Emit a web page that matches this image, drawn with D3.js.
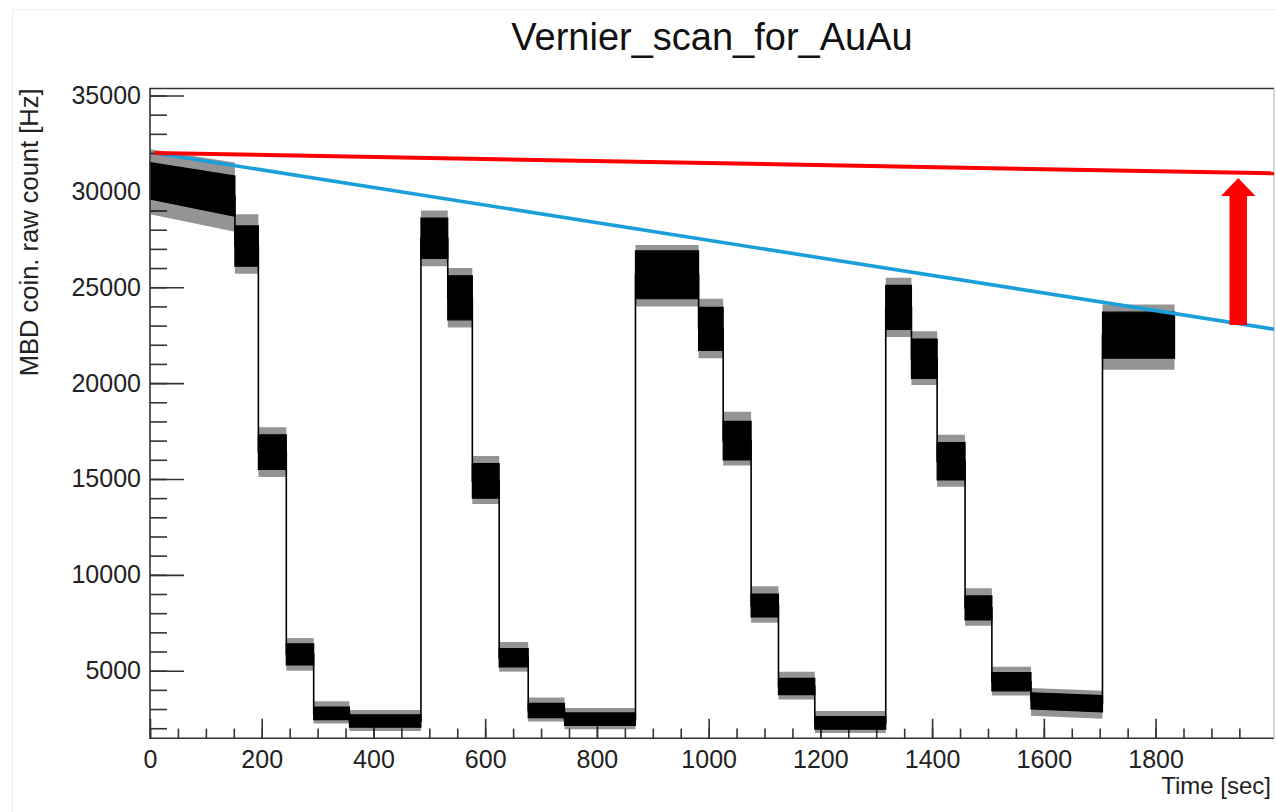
<!DOCTYPE html>
<html>
<head>
<meta charset="utf-8">
<script src="https://cdn.jsdelivr.net/npm/d3@7"></script>
<style>
body{margin:0;background:#ffffff;}
svg{display:block;font-family:"Liberation Sans",Arial,Helvetica,sans-serif;}
</style>
</head>
<body>
<div id="chart"></div>
<script>
//step plateaus of the scan
//start and end time of each plateau [sec]
var plateauStart = [0, 152, 194, 244, 293, 357, 485, 533, 577, 625, 677, 742, 869, 982, 1026, 1076, 1125, 1190, 1317, 1363, 1409, 1459, 1507, 1577, 1705];
var plateauEnd   = [152, 194, 244, 293, 357, 485, 533, 577, 625, 677, 742, 869, 982, 1026, 1076, 1125, 1190, 1317, 1363, 1409, 1459, 1507, 1577, 1705, 1834];
//upper and lower edge of the dense noise band at start / end of each plateau [Hz]
var bandHighStart = [31500, 28200, 17300, 6400, 3100, 2700, 28600, 25600, 15800, 6150, 3300, 2800, 26900, 23950, 18000, 9000, 4600, 2600, 25100, 22300, 16900, 8900, 4900, 3850, 23700];
var bandHighEnd   = [30800, 28200, 17300, 6400, 3100, 2700, 28600, 25600, 15800, 6150, 3300, 2800, 26900, 23950, 18000, 9000, 4600, 2600, 25100, 22300, 16900, 8900, 4900, 3700, 23700];
var bandLowStart  = [29600, 26100, 15500, 5300, 2450, 2050, 26500, 23300, 14000, 5200, 2550, 2150, 24400, 21700, 16000, 7800, 3750, 1950, 22800, 20250, 14950, 7650, 3950, 3000, 21300];
var bandLowEnd    = [28700, 26100, 15500, 5300, 2450, 2050, 26500, 23300, 14000, 5200, 2550, 2150, 24400, 21700, 16000, 7800, 3750, 1950, 22800, 20250, 14950, 7650, 3950, 2850, 21300];
//outer reach of the single spikes at plateau start [Hz]
var spikeHigh = [32200, 28800, 17700, 6700, 3400, 2950, 29000, 26000, 16200, 6500, 3600, 3050, 27200, 24400, 18500, 9400, 4950, 2900, 25500, 22700, 17300, 9300, 5200, 4100, 24100];
var spikeLow  = [28800, 25700, 15100, 5000, 2250, 1850, 26100, 22900, 13700, 4950, 2350, 1950, 24000, 21300, 15700, 7500, 3500, 1750, 22400, 19900, 14600, 7350, 3700, 2650, 20700];

//overlaid lines [time, rate]
var redLine = [[8, 32000], [2012, 30940]];
var blueLine = [[8, 32000], [2012, 22810]];
//arrow from the blue line up to the red one
var arrowTime = 1948;
var arrowFrom = 23030;
var arrowTo = 30700;

var xMajor = d3.range(0, 1801, 200);
var xMinor = d3.range(0, 1951, 50);
var yMajor = d3.range(5000, 35001, 5000);
var yMinor = d3.range(2000, 35001, 1000);

var W = 1276, H = 812;
var frame = {left:150, right:1274, top:88.5, bottom:738.3};

var svg = d3.select("#chart").append("svg").attr("width", W).attr("height", H);

//faint canvas border
svg.append("rect").attr("x", 12.5).attr("y", 9.5).attr("width", W).attr("height", H)
	.attr("fill", "none").attr("stroke", "#ececec").attr("stroke-width", 1);

var x = d3.scaleLinear().domain([0, 2012]).range([frame.left, frame.right]);
var y = d3.scaleLinear().domain([1474, 35365]).range([frame.bottom, frame.top]);

var plot = svg.append("g");

//ticks point inside the frame, root style
var tickColor = "#333333";
function styleAxis(g){
	g.select(".domain").remove();
	g.selectAll(".tick line").attr("stroke", tickColor).attr("stroke-width", 1.6);
	g.selectAll(".tick text").attr("fill", "#222222").attr("font-size", "25px").attr("font-family", "Liberation Sans, Arial, sans-serif");
}

plot.append("g").attr("transform", "translate(0," + frame.bottom + ")")
	.call(d3.axisBottom(x).tickValues(xMinor).tickSize(-9.7).tickFormat(""))
	.call(styleAxis);
plot.append("g").attr("transform", "translate(0," + frame.bottom + ")")
	.call(d3.axisBottom(x).tickValues(xMajor).tickSize(-19.5).tickPadding(12).tickFormat(d3.format("d")))
	.call(styleAxis);

plot.append("g").attr("transform", "translate(" + frame.left + ",0)")
	.call(d3.axisLeft(y).tickValues(yMinor).tickSize(-17).tickFormat(""))
	.call(styleAxis);
plot.append("g").attr("transform", "translate(" + frame.left + ",0)")
	.call(d3.axisLeft(y).tickValues(yMajor).tickSize(-34).tickPadding(9).tickFormat(d3.format("d")))
	.call(styleAxis);

//data: noise bands and the connecting step line
var plateaus = plateauStart.map(function(t0, i){
	var dropHi = bandHighStart[i] - bandHighEnd[i];
	var dropLo = bandLowStart[i] - bandLowEnd[i];
	return [
		{t:t0, hi:bandHighStart[i], lo:bandLowStart[i], shi:spikeHigh[i], slo:spikeLow[i]},
		{t:plateauEnd[i], hi:bandHighEnd[i], lo:bandLowEnd[i], shi:spikeHigh[i] - dropHi, slo:spikeLow[i] - dropLo}
	];
});

var band = d3.area()
	.x(function(d){return x(d.t)})
	.y0(function(d){return y(d.lo)})
	.y1(function(d){return y(d.hi)});
var spikes = d3.area()
	.x(function(d){return x(d.t)})
	.y0(function(d){return y(d.slo)})
	.y1(function(d){return y(d.shi)});

plot.append("g").selectAll("path.spikes").data(plateaus).enter().append("path").classed("spikes", true)
	.attr("d", spikes).attr("fill", "#000000").attr("fill-opacity", 0.42);

plot.append("g").selectAll("path.band").data(plateaus).enter().append("path").classed("band", true)
	.attr("d", band).attr("fill", "#000000").attr("stroke", "#000000").attr("stroke-width", 1.2);

var steps = [];
for(var p=0; p<plateaus.length; p++){
	steps.push(plateaus[p][0], plateaus[p][1]);
}
var stepLine = d3.line()
	.x(function(d){return x(d.t)})
	.y(function(d){return y((d.hi + d.lo)/2)});

plot.append("path").datum(steps).attr("d", stepLine)
	.attr("fill", "none").attr("stroke", "#000000").attr("stroke-width", 1.6);

//frame drawn on top of data
svg.append("path")
	.attr("d", "M" + frame.right + "," + frame.top + "H" + frame.left + "V" + frame.bottom + "H" + frame.right)
	.attr("fill", "none").attr("stroke", "#333333").attr("stroke-width", 1.6);
svg.append("line").attr("x1", frame.right).attr("x2", frame.right).attr("y1", frame.top).attr("y2", frame.bottom)
	.attr("stroke", "#bbbbbb").attr("stroke-width", 1.2);

//overlaid lines
var simple = d3.line().x(function(d){return x(d[0])}).y(function(d){return y(d[1])});
svg.append("path").datum(blueLine).attr("d", simple).attr("fill", "none").attr("stroke", "#1a9fd9").attr("stroke-width", 3.6);
svg.append("path").datum(redLine).attr("d", simple).attr("fill", "none").attr("stroke", "#ff0000").attr("stroke-width", 4);

//red arrow
var ax = x(arrowTime), ay0 = y(arrowFrom), ay1 = y(arrowTo);
var shaftHalf = 8.7, headHalf = 17.2, headLen = 18;
var arrowPath = d3.path();
arrowPath.moveTo(ax - shaftHalf, ay0);
arrowPath.lineTo(ax - shaftHalf, ay1 + headLen);
arrowPath.lineTo(ax - headHalf, ay1 + headLen);
arrowPath.lineTo(ax, ay1);
arrowPath.lineTo(ax + headHalf, ay1 + headLen);
arrowPath.lineTo(ax + shaftHalf, ay1 + headLen);
arrowPath.lineTo(ax + shaftHalf, ay0);
arrowPath.closePath();
svg.append("path").attr("d", arrowPath.toString()).attr("fill", "#ff0000");

//titles
svg.append("text").attr("x", 712).attr("y", 50).attr("text-anchor", "middle")
	.attr("font-size", "38px").attr("fill", "#111111").text("Vernier_scan_for_AuAu");

svg.append("text").attr("transform", "translate(38," + frame.top + ") rotate(-90)")
	.attr("text-anchor", "end").attr("font-size", "25.5px").attr("fill", "#222222")
	.text("MBD coin. raw count [Hz]");

svg.append("text").attr("x", 1271).attr("y", 794).attr("text-anchor", "end")
	.attr("font-size", "24px").attr("fill", "#222222").text("Time [sec]");
</script>
</body>
</html>
